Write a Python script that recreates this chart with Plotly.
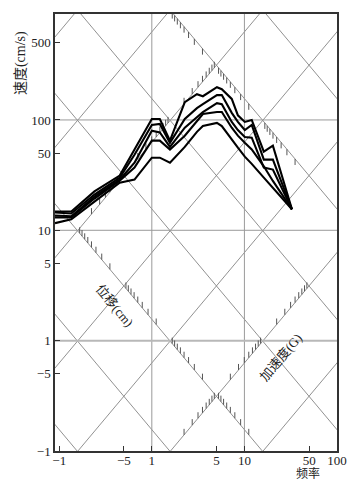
import numpy as np
import plotly.graph_objects as go

# ---------------- data ----------------
freq = [0.09, 0.135, 0.24, 0.45, 0.65, 1.0, 1.22, 1.57, 2.27, 3.07, 3.56,
        5.05, 5.7, 7.3, 8.5, 10.1, 12.0, 16.2, 20.3, 32.6]
vel_1 = [14.8, 14.8, 22.5, 31.3, 54, 102, 102, 65, 145, 171, 164,
         198, 190, 155, 110, 96, 100, 51.5, 58.4, 15.5]
vel_2 = [14.5, 14.2, 21.1, 30.0, 48.4, 90, 92, 62, 102, 128, 139,
         168, 168, 116, 96, 81, 90, 43.7, 43.7, 15.5]
vel_3 = [13.6, 13.4, 20.2, 28.8, 41, 80, 77, 57, 85, 106, 118,
         142, 139, 96, 81, 70, 69, 37, 35.5, 15.5]
vel_4 = [13.1, 13.1, 19.4, 28.2, 37, 65, 65, 54, 72, 96, 113,
         118, 118, 85, 72, 62, 54, 38, 28, 15.5]
vel_5 = [11.6, 12.6, 18.2, 27, 28.8, 45.5, 45.5, 41, 57, 78, 88,
         94, 88, 66, 56, 46.5, 40, 30, 24.4, 15.5]
curves = [vel_1, vel_2, vel_3, vel_4, vel_5]

x_tickvals = [0.1, 0.5, 1, 5, 10, 50, 100]
x_ticktext = ["\u22121", "\u22125", "1", "5", "10", "50", "100"]
y_tickvals = [0.1, 0.5, 1, 5, 10, 50, 100, 500]
y_ticktext = ["\u22121", "\u22125", "1", "5", "10", "50", "100", "500"]

freq_grid = [1, 10]
vel_grid = [10, 100]
vel_grid_bold = [1]
disp_lines = [1e-3, 1e-2, 1e-1, 1, 10, 100, 1000]          # cm
acc_lines = [1e-4, 1e-3, 1e-2, 1e-1, 1, 10, 100]           # G
# scale lines with minor ticks: (fixed value, tick decades, tick side)
disp_scales = [(10.0, [-1, 0, 1, 2], -1), (0.01, [-3, -2, -1, 0], 1)]   # on constant-A lines (A in G)
acc_scales = [(10.0, [-2, -1, 0], 1), (0.01, [-3, -2, -1], 1)]          # on constant-D lines (D in cm)

G = 981.0
TWO_PI = 2 * np.pi

X_RANGE = [np.log10(0.09), 2.0]
Y_RANGE = [-1.0, 2.96]
PX_PER_DEC_Y = 437 / (Y_RANGE[1] - Y_RANGE[0])

fig = go.Figure()

f_span = np.array([1e-3, 1e4])
grid_col = "#858585"
xs, ys = [], []
for D in disp_lines:
    xs += list(f_span) + [None]
    ys += list(TWO_PI * f_span * D) + [None]
for A in acc_lines:
    xs += list(f_span) + [None]
    ys += list(A * G / (TWO_PI * f_span)) + [None]
fig.add_trace(go.Scatter(x=xs, y=ys, mode="lines",
                         line=dict(color=grid_col, width=0.9), hoverinfo="skip"))

gx, gy = [], []
for f in freq_grid:
    gx += [f, f, None]
    gy += [1e-3, 1e5, None]
for v in vel_grid:
    gx += [1e-3, 1e4, None]
    gy += [v, v, None]
fig.add_trace(go.Scatter(x=gx, y=gy, mode="lines",
                         line=dict(color="#9a9a9a", width=1), hoverinfo="skip"))
for v in vel_grid_bold:
    fig.add_trace(go.Scatter(x=[1e-3, 1e4], y=[v, v], mode="lines",
                             line=dict(color="#b8b8b8", width=2), hoverinfo="skip"))

tick_len = 6 / PX_PER_DEC_Y
tx, ty = [], []


def add_tick(f, v, side):
    tx.extend([f, f, None])
    ty.extend([v, v * 10 ** (side * tick_len), None])


for A, decs, side in disp_scales:
    for k in decs:
        for m in range(2, 10):
            D = m * 10.0 ** k
            v = np.sqrt(A * G * D)
            add_tick(v / (TWO_PI * D), v, side)
for D, decs, side in acc_scales:
    for k in decs:
        for m in range(2, 10):
            A = m * 10.0 ** k
            v = np.sqrt(A * G * D)
            add_tick(v / (TWO_PI * D), v, side)
fig.add_trace(go.Scatter(x=tx, y=ty, mode="lines",
                         line=dict(color="#555555", width=1), hoverinfo="skip"))

for vals in curves:
    fig.add_trace(go.Scatter(x=freq, y=vals, mode="lines",
                             line=dict(color="black", width=2.1)))

font_main = "Liberation Serif, Noto Sans CJK SC, serif"
fig.update_layout(
    width=363, height=481,
    margin=dict(l=55, r=26, t=14, b=30),
    paper_bgcolor="white", plot_bgcolor="white",
    showlegend=False,
    font=dict(family=font_main, size=13, color="#222222"),
)
fig.update_xaxes(type="log", range=X_RANGE, tickvals=x_tickvals, ticktext=x_ticktext,
                 ticks="inside", ticklen=5, tickcolor="#333", showgrid=False, zeroline=False,
                 showline=True, mirror=True, linecolor="#333", linewidth=1.5,
                 tickfont=dict(size=13), ticklabelstandoff=-3)
fig.update_yaxes(type="log", range=Y_RANGE, tickvals=y_tickvals, ticktext=y_ticktext,
                 ticks="inside", ticklen=5, tickcolor="#333", showgrid=False, zeroline=False,
                 showline=True, mirror=True, linecolor="#333", linewidth=1.5,
                 tickfont=dict(size=13))

ann = dict(xref="paper", yref="paper", showarrow=False, xanchor="center", yanchor="middle")
fig.add_annotation(text="速度(cm/s)", x=-0.12, y=0.888, textangle=-90,
                   font=dict(size=14), **ann)
fig.add_annotation(text="频率", x=0.897, y=-0.051, font=dict(size=12), **ann)
fig.add_annotation(text="位移(cm)", x=0.21, y=0.332, textangle=50,
                   font=dict(size=13), **ann)
fig.add_annotation(text="加速度(G)", x=0.80, y=0.215, textangle=-50,
                   font=dict(size=13), **ann)

fig.write_html("out.html", config={"displayModeBar": False},
               post_script="document.body.style.margin='0px';")
